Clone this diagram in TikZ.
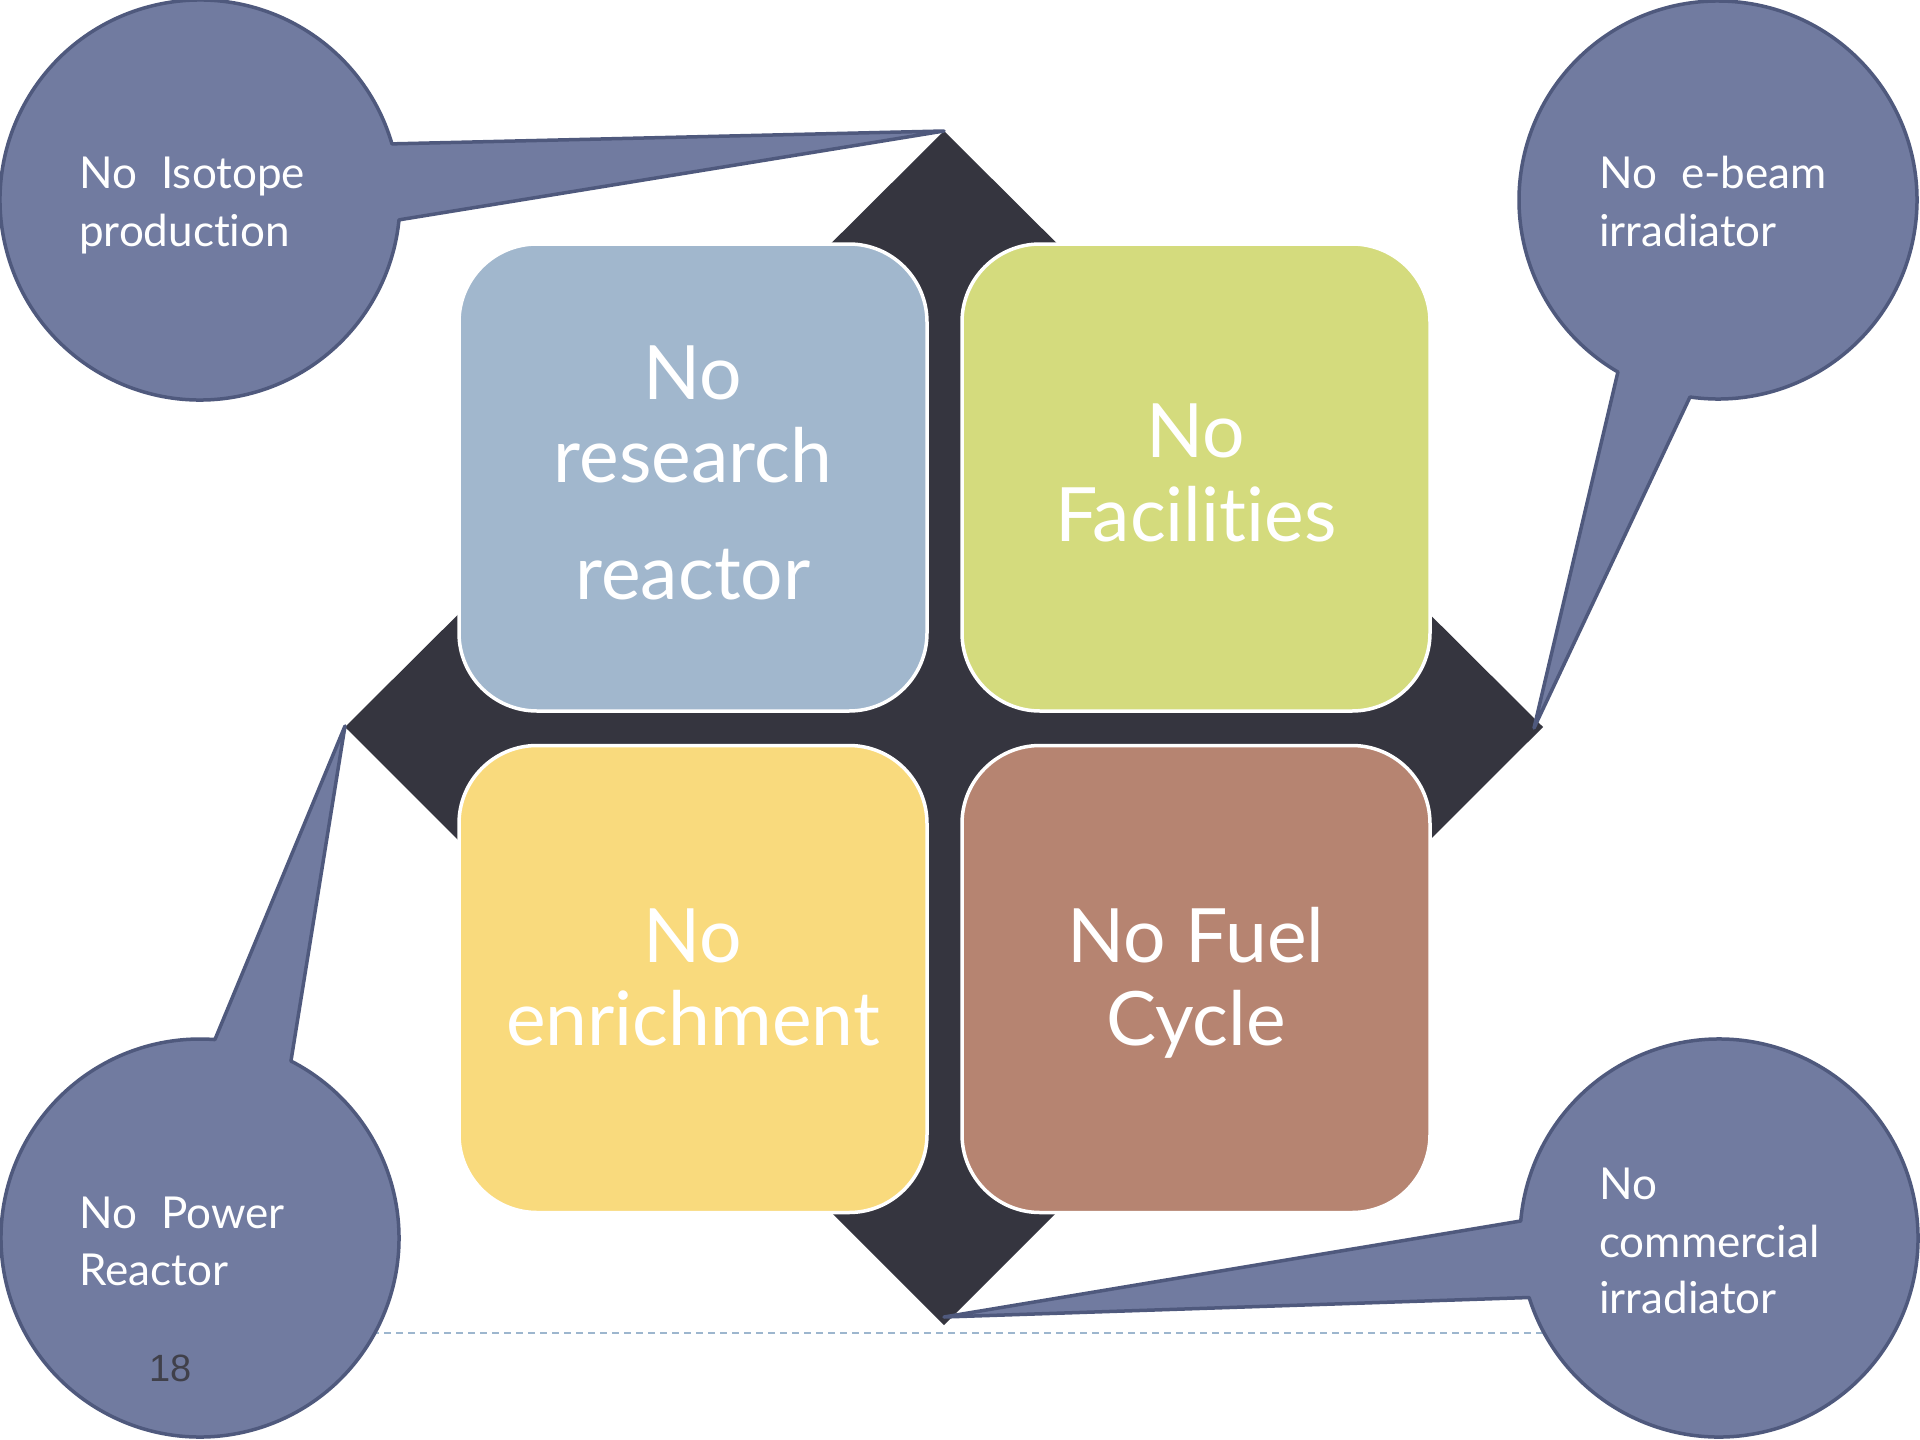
\documentclass[tikz,border=0pt]{standalone}
\usepackage{fontspec}
\setmainfont{Lato}[Ligatures={NoCommon,NoRare,NoContextual}]
\newfontfamily\numfont{Liberation Sans}
\definecolor{diam}{HTML}{35353F}
\definecolor{qtl}{HTML}{A1B7CD}
\definecolor{qtr}{HTML}{D4DB7D}
\definecolor{qbl}{HTML}{F9DA7D}
\definecolor{qbr}{HTML}{B68471}
\definecolor{cfill}{HTML}{717BA0}
\definecolor{cdraw}{HTML}{4F597D}
\definecolor{dashc}{HTML}{9DB6CE}
\definecolor{pgnum}{HTML}{40404A}
\tikzset{
  callout/.style={fill=cfill, draw=cdraw, line width=3.5pt, line join=round},
  quad/.style={draw=white, line width=3.5pt, rounded corners=78pt,
    minimum width=468pt, minimum height=467pt, inner sep=0pt},
  bigtxt/.style={text=white, font=\fontsize{75}{84}\selectfont, anchor=base, inner sep=0pt},
  smalltxt/.style={text=white, font=\fontsize{44}{50}\selectfont, anchor=base west, inner sep=0pt},
}
\newcommand{\dsp}{\hspace{0.55em}}
\begin{document}
\begin{tikzpicture}[x=1pt,y=-1pt]
\fill[white] (0,0) rectangle (1920,1440);
\useasboundingbox (0,0) rectangle (1920,1440);

% footer dashed line
\coordinate (dl1) at (300,1333);
\coordinate (dl2) at (1650,1333);
\draw[dashc, line width=2.2pt, dash pattern=on 7pt off 5pt] (dl1) -- (dl2);

% diamond
\coordinate (dT) at (944,131);
\coordinate (dR) at (1543,727);
\coordinate (dB) at (944,1325);
\coordinate (dL) at (345,727);
\fill[diam] (dT) -- (dR) -- (dB) -- (dL) -- cycle;

% quadrant boxes
\node[quad, fill=qtl] (qtl) at (693,477.5) {};
\node[quad, fill=qtr] (qtr) at (1196,477.5) {};
\node[quad, fill=qbl] (qbl) at (693,979) {};
\node[quad, fill=qbr] (qbr) at (1196,979) {};

\node[bigtxt] (tl1) at (693,399) {No};
\node[bigtxt] (tl2) at (693,482) {research};
\node[bigtxt] (tl3) at (693,599) {reactor};
\node[bigtxt] (tr1) at (1196,457) {No};
\node[bigtxt] (tr2) at (1196,541) {Facilities};
\node[bigtxt] (bl1) at (693,962) {No};
\node[bigtxt] (bl2) at (693,1045) {enrichment};
\node[bigtxt] (br1) at (1196,962) {No Fuel};
\node[bigtxt] (br2) at (1196,1045) {Cycle};

% callout tips
\coordinate (tipTL) at (944,131);
\coordinate (tipTR) at (1534,728);
\coordinate (tipBL) at (345,726);
\coordinate (tipBR) at (944,1317);

% callouts
\draw[callout, shift={(200,200)}] (-16.3:200) arc[start angle=-16.3, end angle=-354.3, radius=200] -- (tipTL) -- cycle;
\draw[callout, shift={(1718,200)}] (98.1:199) arc[start angle=98.1, end angle=-239.8, radius=199] -- (tipTR) -- cycle;
\draw[callout, shift={(200,1238)}] (-62.8:199) arc[start angle=-62.8, end angle=274.3, radius=199] -- (tipBL) -- cycle;
\draw[callout, shift={(1719,1238)}] (162.6:199) arc[start angle=162.6, end angle=-175.1, radius=199] -- (tipBR) -- cycle;

\node[smalltxt] (ca1) at (79,188) {No\dsp Isotope};
\node[smalltxt] (ca2) at (79,246) {production};
\node[smalltxt] (cb1) at (1599,188) {No\dsp e-beam};
\node[smalltxt] (cb2) at (1599,246) {irradiator};
\node[smalltxt] (cc1) at (79,1228) {No\dsp Power};
\node[smalltxt] (cc2) at (79,1285) {Reactor};
\node[smalltxt] (cd1) at (1599,1199) {No};
\node[smalltxt] (cd2) at (1599,1257) {commercial};
\node[smalltxt] (cd3) at (1599,1313) {irradiator};

\node[font=\numfont\fontsize{38}{44}\selectfont, text=pgnum, anchor=base west, inner sep=0pt] (pg) at (149,1381) {18};
\end{tikzpicture}
\end{document}
